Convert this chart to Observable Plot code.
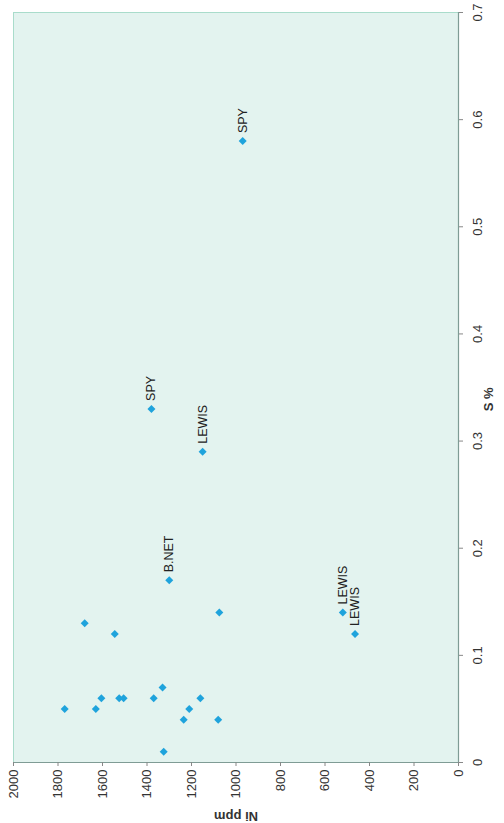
<!DOCTYPE html>
<html>
<head>
<meta charset="utf-8">
<script src="https://cdn.jsdelivr.net/npm/d3@7"></script>
<script src="https://cdn.jsdelivr.net/npm/@observablehq/plot@0.6"></script>
<style>
  html, body { margin: 0; padding: 0; background: white; }
  #chart svg { display: block; }
</style>
</head>
<body>
<div id="chart"></div>
<script>
// Unlabelled samples
const niPlain = [1770, 1630, 1680, 1545, 1605, 1525, 1505, 1370, 1330, 1160, 1210, 1235, 1080, 1325, 1075];
const sPlain  = [0.05, 0.05, 0.13, 0.12, 0.06, 0.06, 0.06, 0.06, 0.07, 0.06, 0.05, 0.04, 0.04, 0.01, 0.14];

// Labelled samples
const labelNames = ["SPY", "SPY", "LEWIS", "B.NET", "LEWIS", "LEWIS"];
const niLabelled = [970, 1380, 1150, 1300, 520, 465];
const sLabelled  = [0.58, 0.33, 0.29, 0.17, 0.14, 0.12];

// Tick values
const niTicks = [0, 200, 400, 600, 800, 1000, 1200, 1400, 1600, 1800, 2000];
const sTicks = [0, 0.1, 0.2, 0.3, 0.4, 0.5, 0.6, 0.7];

const xLabel = "Ni ppm";
const yLabel = "S %";

const plain = niPlain.map((ni, i) => ({ni, s: sPlain[i]}));
const labelled = niLabelled.map((ni, i) => ({ni, s: sLabelled[i], name: labelNames[i]}));
const all = plain.concat(labelled);

const blue = "#1fa3dc";
const axisColor = "#7f9c95";

const chart = Plot.plot({
  width: 504,
  height: 823,
  marginLeft: 13,
  marginRight: 46,
  marginTop: 12,
  marginBottom: 61,
  style: {fontFamily: "'Liberation Sans', Arial, sans-serif", fontSize: "13px", background: "white", color: "#333"},
  x: {domain: [0, 2000], reverse: true, axis: null},
  y: {domain: [0, 0.7], axis: null},
  marks: [
    Plot.frame({fill: "#e3f3ef", stroke: "#a9dccb", strokeWidth: 1}),
    Plot.ruleX([0], {stroke: axisColor, strokeWidth: 1.2}),
    Plot.ruleY([0], {stroke: axisColor, strokeWidth: 1.2}),
    Plot.axisX(niTicks, {anchor: "bottom", tickSize: 4, tickPadding: 3, tickRotate: -90, tickFormat: d => String(d), stroke: "#888", fill: "#333", label: null, fontSize: 13}),
    Plot.axisY(sTicks, {anchor: "right", tickSize: 4, tickFormat: () => "", stroke: "#888", label: null}),
    Plot.text(sTicks, {y: d => d, frameAnchor: "right", dx: 19, rotate: -90, text: d => String(d), textAnchor: "middle", lineAnchor: "middle", fill: "#333", fontSize: 13}),
    Plot.text([xLabel], {frameAnchor: "bottom", dy: 49, rotate: 180, text: d => d, fontWeight: "bold", fill: "#333", fontSize: 13}),
    Plot.text([yLabel], {frameAnchor: "right", dx: 30, rotate: -90, text: d => d, fontWeight: "bold", fill: "#333", fontSize: 13}),
    Plot.dot(all, {x: "ni", y: "s", symbol: "diamond2", r: 3.6, fill: blue, stroke: "none"}),
    Plot.text(labelled, {x: "ni", y: "s", text: "name", rotate: -90, textAnchor: "start", dy: -8, fill: "#222", fontSize: 12.5})
  ]
});
document.getElementById("chart").appendChild(chart);
</script>
</body>
</html>
